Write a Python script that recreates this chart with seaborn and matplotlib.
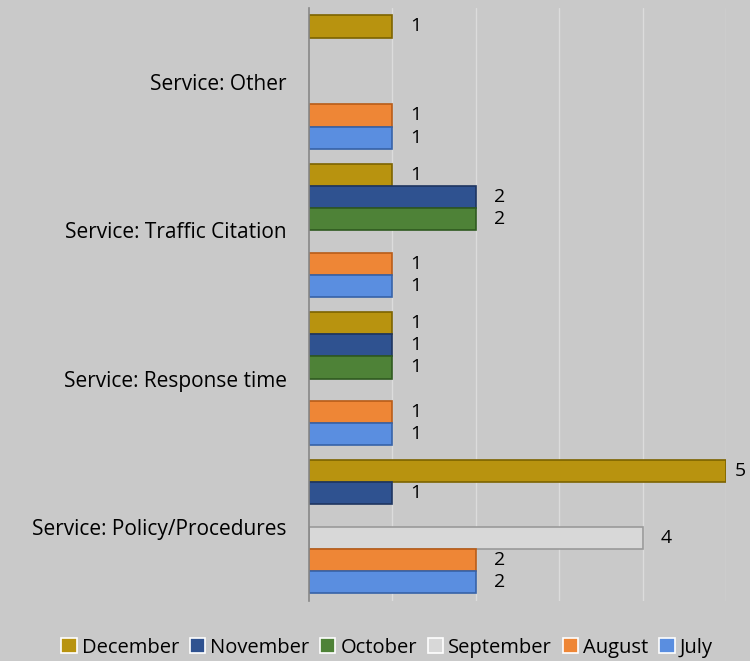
import matplotlib
matplotlib.use("Agg")
import matplotlib.pyplot as plt
import numpy as np
import pandas as pd
import seaborn as sns

categories = ["Service: Other", "Service: Traffic Citation",
              "Service: Response time", "Service: Policy/Procedures"]
months = ["December", "November", "October", "September", "August", "July"]

# values per month, in category order (NaN = no bar)
december = [1, 1, 1, 5]
november = [np.nan, 2, 1, 1]
october = [np.nan, 2, 1, np.nan]
september = [np.nan, np.nan, np.nan, 4]
august = [1, 1, 1, 2]
july = [1, 1, 1, 2]

colors = ["#b8930f", "#2f5290", "#4e8237", "#d8d8d8", "#ee8636", "#5a8ee0"]
edges = ["#7d6300", "#1e3560", "#2f5a20", "#9a9a9a", "#b85c18", "#3662a8"]

series = [december, november, october, september, august, july]
rows = []
for m, vals in zip(months, series):
    for c, v in zip(categories, vals):
        if not np.isnan(v):
            rows.append({"Category": c, "Month": m, "Count": v})
df = pd.DataFrame(rows)

sns.set_style("white")
plt.rcParams["font.family"] = ["Open Sans", "DejaVu Sans"]
plt.rcParams["text.color"] = "black"
plt.rcParams["ytick.labelcolor"] = "black"

fig = plt.figure(figsize=(7.5, 6.61), dpi=100, facecolor="#c9c9c9")
ax = fig.add_axes([0.412, 0.091, 0.556, 0.897])
ax.set_facecolor("#c9c9c9")

sns.barplot(data=df, y="Category", x="Count", hue="Month", order=categories,
            hue_order=months, palette=colors, width=0.9, orient="h",
            linewidth=1.2, saturation=1, ax=ax)

for cont, ec in zip(ax.containers, edges):
    for bar in cont:
        bar.set_edgecolor(ec)
    texts = ax.bar_label(cont, fmt="%g", padding=13, fontsize=14, color="black")
    for t in texts:
        # keep the label of the longest bar inside the figure
        if t.get_text() == "5":
            t.xyann = (6, t.xyann[1])

ax.set_xlim(0, 5)
ax.set_ylim(3.5, -0.5)
for x in range(1, 6):
    ax.axvline(x, color="#dcdcdc", lw=1.0, zorder=0)

for s in ["top", "right", "bottom"]:
    ax.spines[s].set_visible(False)
ax.spines["left"].set_color("#888888")
ax.spines["left"].set_linewidth(1.2)
ax.set_xticks([])
ax.set_yticks(range(len(categories)))
ax.set_yticklabels(categories, fontsize=15, color="black")
ax.tick_params(axis="y", which="major", length=0, pad=16)
ax.set_yticks(np.arange(-0.5, 4, 1), minor=True)
ax.tick_params(axis="y", which="minor", length=7, color="#888888", width=1.2)
ax.set_xlabel("")
ax.set_ylabel("")

handles, labels = ax.get_legend_handles_labels()
ax.get_legend().remove()
fig.legend(handles, labels, loc="center", bbox_to_anchor=(0.516, 0.02),
           ncol=6, frameon=False, fontsize=14.5, handlelength=0.75,
           handleheight=0.75, handletextpad=0.25, columnspacing=0.55)

fig.savefig("out.png", dpi=100, facecolor=fig.get_facecolor())
